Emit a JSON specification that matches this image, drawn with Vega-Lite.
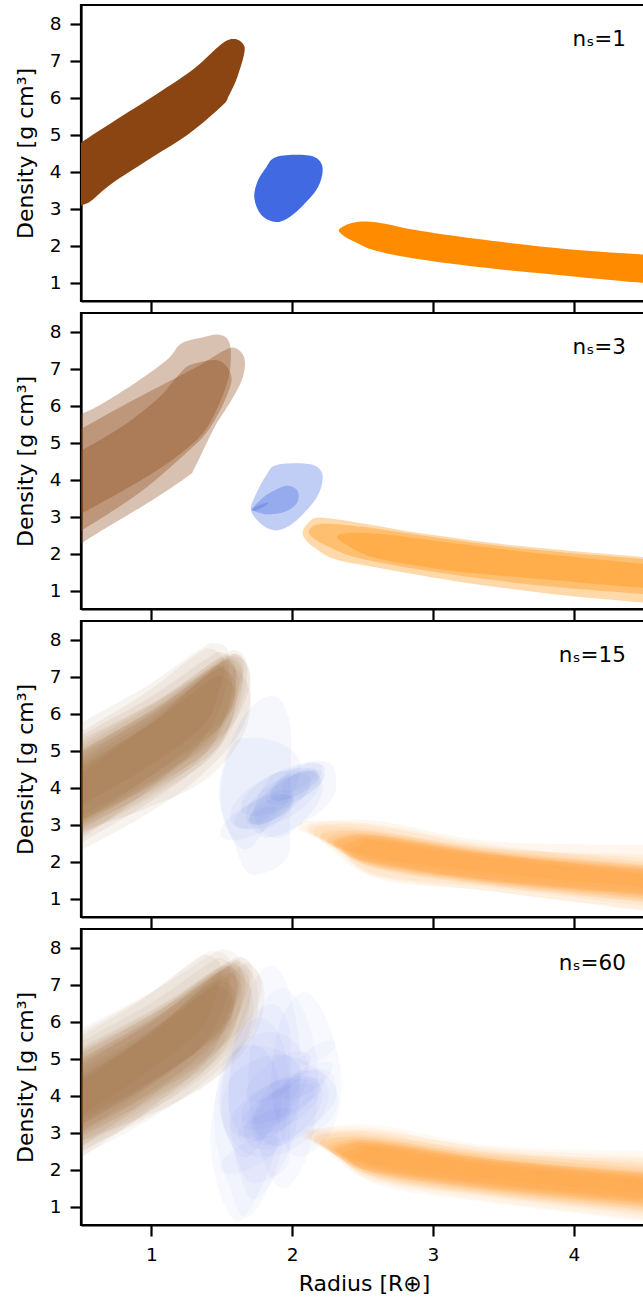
{
  "$schema": "https://vega.github.io/schema/vega-lite/v6.json",
  "autosize": {"type": "pad"},
  "padding": {"left": 13, "top": 3, "right": 0, "bottom": 0},
  "background": "white",
  "bounds": "flush",
  "spacing": 12,
  "config": {
    "font": "DejaVu Sans",
    "view": {"stroke": "black", "strokeWidth": 2.2},
    "axis": {
      "domain": true, "domainColor": "black", "domainWidth": 2.2,
      "ticks": true, "tickColor": "black", "tickWidth": 2.2, "tickSize": 11,
      "labelFont": "DejaVu Sans", "labelFontSize": 18.5, "labelColor": "black", "labelPadding": 9,
      "labelOverlap": false, "labelFlush": false,
      "titleFont": "DejaVu Sans", "titleFontSize": 22, "titleFontWeight": "normal", "titleColor": "black",
      "grid": false, "zindex": 1
    },
    "axisY": {"titlePadding": 12},
    "axisX": {"titlePadding": 10}
  },
  "datasets": {
    "b1": [
      {"k":1,"x":0.38,"y":4.45},{"k":1,"x":0.5,"y":4.78},{"k":1,"x":0.75,"y":5.4},{"k":1,"x":1.0,"y":6.0},{"k":1,"x":1.3,"y":6.77},{"k":1,"x":1.5,"y":7.45},{"k":1,"x":1.59,"y":7.58},{"k":1,"x":1.65,"y":7.45},{"k":1,"x":1.66,"y":7.2},{"k":1,"x":1.61,"y":6.55},{"k":1,"x":1.55,"y":6.05},{"k":1,"x":1.5,"y":5.77},{"k":1,"x":1.26,"y":5.0},{"k":1,"x":1.0,"y":4.37},{"k":1,"x":0.71,"y":3.65},{"k":1,"x":0.57,"y":3.2},{"k":1,"x":0.5,"y":3.07},{"k":1,"x":0.38,"y":2.8}
    ],
    "u1": [
      {"k":1,"x":1.814,"y":4.1},{"k":1,"x":1.873,"y":4.37},{"k":1,"x":2.015,"y":4.45},{"k":1,"x":2.157,"y":4.39},{"k":1,"x":2.216,"y":4.1},{"k":1,"x":2.181,"y":3.56},{"k":1,"x":2.06,"y":3.02},{"k":1,"x":1.956,"y":2.71},{"k":1,"x":1.873,"y":2.64},{"k":1,"x":1.778,"y":2.84},{"k":1,"x":1.731,"y":3.29},{"k":1,"x":1.755,"y":3.74}
    ],
    "o1": [
      {"k":1,"x":2.335,"y":2.44},{"k":1,"x":2.44,"y":2.62},{"k":1,"x":2.607,"y":2.62},{"k":1,"x":2.915,"y":2.39},{"k":1,"x":3.389,"y":2.14},{"k":1,"x":3.98,"y":1.89},{"k":1,"x":4.49,"y":1.76},{"k":1,"x":4.7,"y":1.72},{"k":1,"x":4.7,"y":0.95},{"k":1,"x":4.49,"y":0.99},{"k":1,"x":3.98,"y":1.17},{"k":1,"x":3.389,"y":1.39},{"k":1,"x":2.915,"y":1.62},{"k":1,"x":2.595,"y":1.86},{"k":1,"x":2.44,"y":2.11},{"k":1,"x":2.36,"y":2.28}
    ],
    "b2": [
      {"k":1,"x":0.38,"y":5.45},{"k":1,"x":0.5,"y":5.76},{"k":1,"x":0.642,"y":6.03},{"k":1,"x":0.9,"y":6.65},{"k":1,"x":1.115,"y":7.25},{"k":1,"x":1.21,"y":7.67},{"k":1,"x":1.352,"y":7.83},{"k":1,"x":1.47,"y":7.92},{"k":1,"x":1.542,"y":7.79},{"k":1,"x":1.565,"y":7.38},{"k":1,"x":1.542,"y":6.66},{"k":1,"x":1.447,"y":5.76},{"k":1,"x":1.33,"y":5.1},{"k":1,"x":1.1,"y":4.4},{"k":1,"x":0.8,"y":3.7},{"k":1,"x":0.5,"y":3.07},{"k":1,"x":0.38,"y":2.8},
      {"k":2,"x":0.38,"y":5.05},{"k":2,"x":0.5,"y":5.36},{"k":2,"x":0.8,"y":6.0},{"k":2,"x":1.1,"y":6.6},{"k":2,"x":1.35,"y":7.1},{"k":2,"x":1.5,"y":7.45},{"k":2,"x":1.59,"y":7.56},{"k":2,"x":1.66,"y":7.29},{"k":2,"x":1.648,"y":6.75},{"k":2,"x":1.565,"y":6.12},{"k":2,"x":1.447,"y":5.4},{"k":2,"x":1.305,"y":4.3},{"k":2,"x":1.258,"y":4.09},{"k":2,"x":0.997,"y":3.42},{"k":2,"x":0.642,"y":2.61},{"k":2,"x":0.5,"y":2.27},{"k":2,"x":0.38,"y":2.0},
      {"k":3,"x":0.38,"y":4.5},{"k":3,"x":0.5,"y":4.77},{"k":3,"x":0.8,"y":5.45},{"k":3,"x":1.05,"y":6.2},{"k":3,"x":1.2,"y":6.85},{"k":3,"x":1.28,"y":7.1},{"k":3,"x":1.47,"y":7.22},{"k":3,"x":1.565,"y":6.84},{"k":3,"x":1.54,"y":6.3},{"k":3,"x":1.4,"y":5.31},{"k":3,"x":1.21,"y":4.59},{"k":3,"x":0.9,"y":3.6},{"k":3,"x":0.5,"y":2.61},{"k":3,"x":0.38,"y":2.35}
    ],
    "u2": [
      {"k":1,"x":1.814,"y":4.1},{"k":1,"x":1.873,"y":4.37},{"k":1,"x":2.015,"y":4.44},{"k":1,"x":2.157,"y":4.38},{"k":1,"x":2.216,"y":4.1},{"k":1,"x":2.181,"y":3.56},{"k":1,"x":2.06,"y":3.0},{"k":1,"x":1.956,"y":2.7},{"k":1,"x":1.873,"y":2.63},{"k":1,"x":1.778,"y":2.8},{"k":1,"x":1.707,"y":3.19},{"k":1,"x":1.755,"y":3.7},
      {"k":2,"x":1.731,"y":3.28},{"k":2,"x":1.825,"y":3.6},{"k":2,"x":1.944,"y":3.82},{"k":2,"x":2.015,"y":3.78},{"k":2,"x":2.046,"y":3.6},{"k":2,"x":2.027,"y":3.33},{"k":2,"x":1.944,"y":3.12},{"k":2,"x":1.825,"y":3.06},{"k":2,"x":1.731,"y":3.15},
      {"k":3,"x":1.71,"y":3.2},{"k":3,"x":1.76,"y":3.3},{"k":3,"x":1.83,"y":3.38},{"k":3,"x":1.8,"y":3.27},{"k":3,"x":1.73,"y":3.15}
    ],
    "o2": [
      {"k":1,"x":2.075,"y":2.61},{"k":1,"x":2.12,"y":2.85},{"k":1,"x":2.18,"y":2.97},{"k":1,"x":2.3,"y":2.93},{"k":1,"x":2.6,"y":2.75},{"k":1,"x":2.915,"y":2.55},{"k":1,"x":3.625,"y":2.2},{"k":1,"x":4.5,"y":1.9},{"k":1,"x":4.7,"y":1.85},{"k":1,"x":4.7,"y":0.6},{"k":1,"x":4.5,"y":0.67},{"k":1,"x":3.86,"y":0.9},{"k":1,"x":3.15,"y":1.26},{"k":1,"x":2.6,"y":1.62},{"k":1,"x":2.3,"y":1.85},{"k":1,"x":2.157,"y":2.16},{"k":1,"x":2.09,"y":2.4},
      {"k":2,"x":2.12,"y":2.55},{"k":2,"x":2.2,"y":2.8},{"k":2,"x":2.5,"y":2.72},{"k":2,"x":2.9,"y":2.5},{"k":2,"x":3.6,"y":2.15},{"k":2,"x":4.5,"y":1.85},{"k":2,"x":4.7,"y":1.8},{"k":2,"x":4.7,"y":0.85},{"k":2,"x":4.5,"y":0.9},{"k":2,"x":3.8,"y":1.12},{"k":2,"x":3.1,"y":1.45},{"k":2,"x":2.5,"y":1.85},{"k":2,"x":2.25,"y":2.2},
      {"k":3,"x":2.32,"y":2.47},{"k":3,"x":2.45,"y":2.56},{"k":3,"x":2.7,"y":2.5},{"k":3,"x":3.0,"y":2.35},{"k":3,"x":3.6,"y":2.07},{"k":3,"x":4.5,"y":1.72},{"k":3,"x":4.7,"y":1.68},{"k":3,"x":4.7,"y":1.02},{"k":3,"x":4.5,"y":1.07},{"k":3,"x":3.8,"y":1.3},{"k":3,"x":3.1,"y":1.55},{"k":3,"x":2.6,"y":1.87},{"k":3,"x":2.4,"y":2.2}
    ],
    "b3": [
      {"k":1,"x":0.38,"y":4.5},{"k":1,"x":0.5,"y":4.8},{"k":1,"x":1.035,"y":6.09},{"k":1,"x":1.45,"y":7.35},{"k":1,"x":1.57,"y":7.55},{"k":1,"x":1.65,"y":7.2},{"k":1,"x":1.6,"y":6.5},{"k":1,"x":1.5,"y":5.8},{"k":1,"x":1.0,"y":4.33},{"k":1,"x":0.5,"y":3.05},{"k":1,"x":0.38,"y":2.75},
      {"k":2,"x":0.38,"y":5.45},{"k":2,"x":0.5,"y":5.75},{"k":2,"x":0.975,"y":6.76},{"k":2,"x":1.33,"y":7.7},{"k":2,"x":1.45,"y":7.9},{"k":2,"x":1.55,"y":7.6},{"k":2,"x":1.5,"y":6.3},{"k":2,"x":1.3,"y":5.0},{"k":2,"x":0.9,"y":3.95},{"k":2,"x":0.5,"y":3.1},{"k":2,"x":0.38,"y":2.8},
      {"k":3,"x":0.38,"y":5.0},{"k":3,"x":0.5,"y":5.3},{"k":3,"x":1.05,"y":6.36},{"k":3,"x":1.48,"y":7.35},{"k":3,"x":1.6,"y":7.55},{"k":3,"x":1.7,"y":7.1},{"k":3,"x":1.65,"y":5.63},{"k":3,"x":1.3,"y":4.15},{"k":3,"x":0.9,"y":3.13},{"k":3,"x":0.5,"y":2.3},{"k":3,"x":0.38,"y":2.0},
      {"k":4,"x":0.38,"y":4.4},{"k":4,"x":0.5,"y":4.7},{"k":4,"x":1.0,"y":5.88},{"k":4,"x":1.38,"y":7.0},{"k":4,"x":1.5,"y":7.2},{"k":4,"x":1.6,"y":6.8},{"k":4,"x":1.55,"y":6.05},{"k":4,"x":1.4,"y":5.3},{"k":4,"x":0.95,"y":3.85},{"k":4,"x":0.5,"y":2.6},{"k":4,"x":0.38,"y":2.3},
      {"k":5,"x":0.38,"y":4.7},{"k":5,"x":0.5,"y":5.0},{"k":5,"x":1.025,"y":6.13},{"k":5,"x":1.43,"y":7.2},{"k":5,"x":1.55,"y":7.4},{"k":5,"x":1.7,"y":6.6},{"k":5,"x":1.65,"y":5.4},{"k":5,"x":1.38,"y":4.2},{"k":5,"x":0.94,"y":3.4},{"k":5,"x":0.5,"y":2.8},{"k":5,"x":0.38,"y":2.5},
      {"k":6,"x":0.38,"y":4.1},{"k":6,"x":0.5,"y":4.4},{"k":6,"x":1.05,"y":5.9},{"k":6,"x":1.48,"y":7.4},{"k":6,"x":1.6,"y":7.6},{"k":6,"x":1.66,"y":7.3},{"k":6,"x":1.61,"y":6.4},{"k":6,"x":1.45,"y":5.5},{"k":6,"x":0.975,"y":4.25},{"k":6,"x":0.5,"y":3.2},{"k":6,"x":0.38,"y":2.9},
      {"k":7,"x":0.38,"y":5.2},{"k":7,"x":0.5,"y":5.5},{"k":7,"x":0.96,"y":6.56},{"k":7,"x":1.3,"y":7.55},{"k":7,"x":1.42,"y":7.75},{"k":7,"x":1.52,"y":7.4},{"k":7,"x":1.47,"y":6.5},{"k":7,"x":1.35,"y":5.6},{"k":7,"x":0.925,"y":4.45},{"k":7,"x":0.5,"y":3.5},{"k":7,"x":0.38,"y":3.2},
      {"k":8,"x":0.38,"y":4.6},{"k":8,"x":0.5,"y":4.9},{"k":8,"x":1.025,"y":6.03},{"k":8,"x":1.43,"y":7.1},{"k":8,"x":1.55,"y":7.3},{"k":8,"x":1.62,"y":6.9},{"k":8,"x":1.57,"y":5.85},{"k":8,"x":1.42,"y":4.8},{"k":8,"x":0.96,"y":3.65},{"k":8,"x":0.5,"y":2.7},{"k":8,"x":0.38,"y":2.4},
      {"k":9,"x":0.38,"y":4.9},{"k":9,"x":0.5,"y":5.2},{"k":9,"x":1.05,"y":6.38},{"k":9,"x":1.48,"y":7.5},{"k":9,"x":1.6,"y":7.7},{"k":9,"x":1.68,"y":7.3},{"k":9,"x":1.63,"y":6.15},{"k":9,"x":1.45,"y":5.0},{"k":9,"x":0.975,"y":3.85},{"k":9,"x":0.5,"y":2.9},{"k":9,"x":0.38,"y":2.6},
      {"k":10,"x":0.38,"y":4.3},{"k":10,"x":0.5,"y":4.6},{"k":10,"x":1.0,"y":5.73},{"k":10,"x":1.38,"y":6.8},{"k":10,"x":1.5,"y":7.0},{"k":10,"x":1.6,"y":6.6},{"k":10,"x":1.55,"y":5.6},{"k":10,"x":1.35,"y":4.6},{"k":10,"x":0.925,"y":3.45},{"k":10,"x":0.5,"y":2.5},{"k":10,"x":0.38,"y":2.2},
      {"k":11,"x":0.38,"y":4.8},{"k":11,"x":0.5,"y":5.1},{"k":11,"x":1.01,"y":6.23},{"k":11,"x":1.4,"y":7.3},{"k":11,"x":1.52,"y":7.5},{"k":11,"x":1.6,"y":7.1},{"k":11,"x":1.55,"y":6.15},{"k":11,"x":1.4,"y":5.2},{"k":11,"x":0.95,"y":4.0},{"k":11,"x":0.5,"y":3.0},{"k":11,"x":0.38,"y":2.7},
      {"k":12,"x":0.38,"y":4.65},{"k":12,"x":0.5,"y":4.95},{"k":12,"x":1.06,"y":6.2},{"k":12,"x":1.5,"y":7.4},{"k":12,"x":1.62,"y":7.6},{"k":12,"x":1.7,"y":7.0},{"k":12,"x":1.65,"y":6.2},{"k":12,"x":1.5,"y":5.4},{"k":12,"x":1.0,"y":4.08},{"k":12,"x":0.5,"y":2.95},{"k":12,"x":0.38,"y":2.65},
      {"k":13,"x":0.38,"y":5.1},{"k":13,"x":0.5,"y":5.4},{"k":13,"x":1.0,"y":6.46},{"k":13,"x":1.38,"y":7.45},{"k":13,"x":1.5,"y":7.65},{"k":13,"x":1.6,"y":7.2},{"k":13,"x":1.55,"y":5.95},{"k":13,"x":1.33,"y":4.7},{"k":13,"x":0.915,"y":3.63},{"k":13,"x":0.5,"y":2.75},{"k":13,"x":0.38,"y":2.45},
      {"k":14,"x":0.38,"y":4.2},{"k":14,"x":0.5,"y":4.5},{"k":14,"x":1.04,"y":5.89},{"k":14,"x":1.46,"y":7.25},{"k":14,"x":1.58,"y":7.45},{"k":14,"x":1.65,"y":7.0},{"k":14,"x":1.6,"y":6.05},{"k":14,"x":1.44,"y":5.1},{"k":14,"x":0.97,"y":3.88},{"k":14,"x":0.5,"y":2.85},{"k":14,"x":0.38,"y":2.55},
      {"k":15,"x":0.38,"y":4.7},{"k":15,"x":0.5,"y":5.0},{"k":15,"x":0.99,"y":6.08},{"k":15,"x":1.36,"y":7.1},{"k":15,"x":1.48,"y":7.3},{"k":15,"x":1.57,"y":6.9},{"k":15,"x":1.52,"y":5.9},{"k":15,"x":1.37,"y":4.9},{"k":15,"x":0.935,"y":3.9},{"k":15,"x":0.5,"y":3.1},{"k":15,"x":0.38,"y":2.8}
    ],
    "u3": [
      {"k":1,"x":1.684,"y":6.07},{"k":1,"x":1.873,"y":6.47},{"k":1,"x":1.98,"y":5.8},{"k":1,"x":1.99,"y":4.5},{"k":1,"x":1.985,"y":3.0},{"k":1,"x":1.956,"y":2.05},{"k":1,"x":1.707,"y":1.65},{"k":1,"x":1.589,"y":2.47},{"k":1,"x":1.48,"y":3.74},{"k":1,"x":1.542,"y":4.99},
      {"k":2,"x":1.62,"y":5.3},{"k":2,"x":1.83,"y":5.3},{"k":2,"x":2.0,"y":5.0},{"k":2,"x":2.06,"y":4.55},{"k":2,"x":2.0,"y":3.8},{"k":2,"x":1.85,"y":3.1},{"k":2,"x":1.7,"y":2.37},{"k":2,"x":1.6,"y":2.5},{"k":2,"x":1.5,"y":3.3},{"k":2,"x":1.5,"y":4.2},{"k":2,"x":1.55,"y":4.9},
      {"k":3,"x":2.015,"y":4.54},{"k":3,"x":2.157,"y":4.72},{"k":3,"x":2.276,"y":4.63},{"k":3,"x":2.311,"y":4.27},{"k":3,"x":2.3,"y":3.82},{"k":3,"x":2.205,"y":3.37},{"k":3,"x":2.062,"y":3.01},{"k":3,"x":1.92,"y":2.74},{"k":3,"x":1.802,"y":2.65},{"k":3,"x":1.72,"y":2.92},{"k":3,"x":1.707,"y":3.28},{"k":3,"x":1.802,"y":3.82},{"k":3,"x":1.92,"y":4.27},
      {"k":4,"x":2.12,"y":4.3},{"k":4,"x":2.106,"y":3.877},{"k":4,"x":1.97,"y":3.35},{"k":4,"x":1.794,"y":3.025},{"k":4,"x":1.68,"y":3.1},{"k":4,"x":1.694,"y":3.523},{"k":4,"x":1.83,"y":4.05},{"k":4,"x":2.006,"y":4.375},
      {"k":5,"x":2.21,"y":4.6},{"k":5,"x":2.194,"y":4.292},{"k":5,"x":2.08,"y":3.9},{"k":5,"x":1.938,"y":3.652},{"k":5,"x":1.85,"y":3.7},{"k":5,"x":1.866,"y":4.008},{"k":5,"x":1.98,"y":4.4},{"k":5,"x":2.122,"y":4.648},
      {"k":6,"x":2.0,"y":3.75},{"k":6,"x":1.985,"y":3.377},{"k":6,"x":1.83,"y":2.9},{"k":6,"x":1.629,"y":2.597},{"k":6,"x":1.5,"y":2.65},{"k":6,"x":1.515,"y":3.023},{"k":6,"x":1.67,"y":3.5},{"k":6,"x":1.871,"y":3.803},
      {"k":7,"x":2.18,"y":4.4},{"k":7,"x":2.178,"y":3.877},{"k":7,"x":2.0,"y":3.25},{"k":7,"x":1.752,"y":2.883},{"k":7,"x":1.58,"y":3.0},{"k":7,"x":1.582,"y":3.523},{"k":7,"x":1.76,"y":4.15},{"k":7,"x":2.008,"y":4.517},
      {"k":8,"x":2.0,"y":3.75},{"k":8,"x":1.993,"y":3.507},{"k":8,"x":1.9,"y":3.2},{"k":8,"x":1.779,"y":3.009},{"k":8,"x":1.7,"y":3.05},{"k":8,"x":1.707,"y":3.293},{"k":8,"x":1.8,"y":3.6},{"k":8,"x":1.921,"y":3.791},
      {"k":9,"x":2.17,"y":4.5},{"k":9,"x":2.163,"y":4.306},{"k":9,"x":2.09,"y":4.05},{"k":9,"x":1.993,"y":3.88},{"k":9,"x":1.93,"y":3.9},{"k":9,"x":1.937,"y":4.094},{"k":9,"x":2.01,"y":4.35},{"k":9,"x":2.107,"y":4.52},
      {"k":10,"x":2.0,"y":3.85},{"k":10,"x":1.992,"y":3.542},{"k":10,"x":1.87,"y":3.15},{"k":10,"x":1.708,"y":2.902},{"k":10,"x":1.6,"y":2.95},{"k":10,"x":1.608,"y":3.258},{"k":10,"x":1.73,"y":3.65},{"k":10,"x":1.892,"y":3.898},
      {"k":11,"x":2.18,"y":4.4},{"k":11,"x":2.177,"y":4.157},{"k":11,"x":2.08,"y":3.85},{"k":11,"x":1.949,"y":3.659},{"k":11,"x":1.86,"y":3.7},{"k":11,"x":1.863,"y":3.943},{"k":11,"x":1.96,"y":4.25},{"k":11,"x":2.091,"y":4.441},
      {"k":12,"x":2.22,"y":4.4},{"k":12,"x":2.205,"y":4.106},{"k":12,"x":2.08,"y":3.75},{"k":12,"x":1.921,"y":3.538},{"k":12,"x":1.82,"y":3.6},{"k":12,"x":1.835,"y":3.894},{"k":12,"x":1.96,"y":4.25},{"k":12,"x":2.119,"y":4.462},
      {"k":13,"x":1.88,"y":3.47},{"k":13,"x":1.872,"y":3.321},{"k":13,"x":1.81,"y":3.13},{"k":13,"x":1.73,"y":3.009},{"k":13,"x":1.68,"y":3.03},{"k":13,"x":1.688,"y":3.179},{"k":13,"x":1.75,"y":3.37},{"k":13,"x":1.83,"y":3.491},
      {"k":14,"x":1.814,"y":4.1},{"k":14,"x":1.873,"y":4.37},{"k":14,"x":2.015,"y":4.45},{"k":14,"x":2.157,"y":4.39},{"k":14,"x":2.216,"y":4.1},{"k":14,"x":2.181,"y":3.56},{"k":14,"x":2.06,"y":3.02},{"k":14,"x":1.956,"y":2.71},{"k":14,"x":1.873,"y":2.64},{"k":14,"x":1.778,"y":2.84},{"k":14,"x":1.731,"y":3.29},{"k":14,"x":1.755,"y":3.74},
      {"k":15,"x":2.23,"y":4.54},{"k":15,"x":2.186,"y":4.065},{"k":15,"x":1.994,"y":3.525},{"k":15,"x":1.768,"y":3.235},{"k":15,"x":1.64,"y":3.37},{"k":15,"x":1.684,"y":3.845},{"k":15,"x":1.876,"y":4.385},{"k":15,"x":2.102,"y":4.675}
    ],
    "o3": [
      {"k":1,"x":2.3,"y":2.5},{"k":1,"x":2.38,"y":2.65},{"k":1,"x":2.6,"y":2.7},{"k":1,"x":3.4,"y":2.2},{"k":1,"x":4.5,"y":1.8},{"k":1,"x":4.7,"y":1.76},{"k":1,"x":4.7,"y":0.94},{"k":1,"x":4.5,"y":1.0},{"k":1,"x":3.4,"y":1.4},{"k":1,"x":2.6,"y":1.85},{"k":1,"x":2.36,"y":2.3},
      {"k":2,"x":2.05,"y":2.95},{"k":2,"x":2.13,"y":3.1},{"k":2,"x":2.6,"y":3.0},{"k":2,"x":3.4,"y":2.45},{"k":2,"x":4.5,"y":2.0},{"k":2,"x":4.7,"y":1.96},{"k":2,"x":4.7,"y":1.04},{"k":2,"x":4.5,"y":1.1},{"k":2,"x":3.4,"y":1.5},{"k":2,"x":2.6,"y":2.0},{"k":2,"x":2.11,"y":2.75},
      {"k":3,"x":2.2,"y":2.7},{"k":3,"x":2.28,"y":2.85},{"k":3,"x":2.6,"y":2.8},{"k":3,"x":3.4,"y":2.3},{"k":3,"x":4.5,"y":1.9},{"k":3,"x":4.7,"y":1.86},{"k":3,"x":4.7,"y":0.74},{"k":3,"x":4.5,"y":0.8},{"k":3,"x":3.4,"y":1.3},{"k":3,"x":2.6,"y":1.65},{"k":3,"x":2.26,"y":2.5},
      {"k":4,"x":2.35,"y":2.35},{"k":4,"x":2.43,"y":2.5},{"k":4,"x":2.6,"y":2.6},{"k":4,"x":3.4,"y":2.15},{"k":4,"x":4.5,"y":1.75},{"k":4,"x":4.7,"y":1.71},{"k":4,"x":4.7,"y":1.09},{"k":4,"x":4.5,"y":1.15},{"k":4,"x":3.4,"y":1.5},{"k":4,"x":2.6,"y":1.95},{"k":4,"x":2.41,"y":2.15},
      {"k":5,"x":2.15,"y":2.8},{"k":5,"x":2.23,"y":2.95},{"k":5,"x":2.6,"y":2.85},{"k":5,"x":3.4,"y":2.35},{"k":5,"x":4.5,"y":2.2},{"k":5,"x":4.7,"y":2.16},{"k":5,"x":4.7,"y":1.14},{"k":5,"x":4.5,"y":1.2},{"k":5,"x":3.4,"y":1.6},{"k":5,"x":2.6,"y":2.05},{"k":5,"x":2.21,"y":2.6},
      {"k":6,"x":2.25,"y":2.6},{"k":6,"x":2.33,"y":2.75},{"k":6,"x":2.6,"y":2.75},{"k":6,"x":3.4,"y":2.25},{"k":6,"x":4.5,"y":1.7},{"k":6,"x":4.7,"y":1.66},{"k":6,"x":4.7,"y":0.84},{"k":6,"x":4.5,"y":0.9},{"k":6,"x":3.4,"y":1.35},{"k":6,"x":2.6,"y":1.8},{"k":6,"x":2.31,"y":2.4},
      {"k":7,"x":2.1,"y":2.9},{"k":7,"x":2.18,"y":3.05},{"k":7,"x":2.6,"y":3.1},{"k":7,"x":3.4,"y":2.55},{"k":7,"x":4.5,"y":2.45},{"k":7,"x":4.7,"y":2.41},{"k":7,"x":4.7,"y":1.24},{"k":7,"x":4.5,"y":1.3},{"k":7,"x":3.4,"y":1.7},{"k":7,"x":2.6,"y":2.1},{"k":7,"x":2.16,"y":2.7},
      {"k":8,"x":2.3,"y":2.45},{"k":8,"x":2.38,"y":2.6},{"k":8,"x":2.6,"y":2.65},{"k":8,"x":3.4,"y":2.2},{"k":8,"x":4.5,"y":1.85},{"k":8,"x":4.7,"y":1.81},{"k":8,"x":4.7,"y":0.64},{"k":8,"x":4.5,"y":0.7},{"k":8,"x":3.4,"y":1.2},{"k":8,"x":2.6,"y":1.6},{"k":8,"x":2.36,"y":2.25},
      {"k":9,"x":2.4,"y":2.3},{"k":9,"x":2.48,"y":2.45},{"k":9,"x":2.6,"y":2.55},{"k":9,"x":3.4,"y":2.1},{"k":9,"x":4.5,"y":1.65},{"k":9,"x":4.7,"y":1.61},{"k":9,"x":4.7,"y":1.04},{"k":9,"x":4.5,"y":1.1},{"k":9,"x":3.4,"y":1.45},{"k":9,"x":2.6,"y":1.95},{"k":9,"x":2.46,"y":2.1},
      {"k":10,"x":2.2,"y":2.65},{"k":10,"x":2.28,"y":2.8},{"k":10,"x":2.6,"y":2.8},{"k":10,"x":3.4,"y":2.35},{"k":10,"x":4.5,"y":1.95},{"k":10,"x":4.7,"y":1.91},{"k":10,"x":4.7,"y":0.94},{"k":10,"x":4.5,"y":1.0},{"k":10,"x":3.4,"y":1.45},{"k":10,"x":2.6,"y":1.9},{"k":10,"x":2.26,"y":2.45},
      {"k":11,"x":2.3,"y":2.55},{"k":11,"x":2.38,"y":2.7},{"k":11,"x":2.6,"y":2.7},{"k":11,"x":3.4,"y":2.25},{"k":11,"x":4.5,"y":1.9},{"k":11,"x":4.7,"y":1.86},{"k":11,"x":4.7,"y":0.99},{"k":11,"x":4.5,"y":1.05},{"k":11,"x":3.4,"y":1.45},{"k":11,"x":2.6,"y":1.9},{"k":11,"x":2.36,"y":2.35},
      {"k":12,"x":2.25,"y":2.55},{"k":12,"x":2.33,"y":2.7},{"k":12,"x":2.6,"y":2.72},{"k":12,"x":3.4,"y":2.28},{"k":12,"x":4.5,"y":1.88},{"k":12,"x":4.7,"y":1.84},{"k":12,"x":4.7,"y":0.89},{"k":12,"x":4.5,"y":0.95},{"k":12,"x":3.4,"y":1.4},{"k":12,"x":2.6,"y":1.85},{"k":12,"x":2.31,"y":2.35},
      {"k":13,"x":2.12,"y":2.85},{"k":13,"x":2.2,"y":3.0},{"k":13,"x":2.6,"y":2.95},{"k":13,"x":3.4,"y":2.4},{"k":13,"x":4.5,"y":2.1},{"k":13,"x":4.7,"y":2.06},{"k":13,"x":4.7,"y":0.6},{"k":13,"x":4.5,"y":0.66},{"k":13,"x":3.4,"y":1.2},{"k":13,"x":2.6,"y":1.55},{"k":13,"x":2.18,"y":2.65},
      {"k":14,"x":2.35,"y":2.4},{"k":14,"x":2.43,"y":2.55},{"k":14,"x":2.6,"y":2.62},{"k":14,"x":3.4,"y":2.18},{"k":14,"x":4.5,"y":1.78},{"k":14,"x":4.7,"y":1.74},{"k":14,"x":4.7,"y":1.04},{"k":14,"x":4.5,"y":1.1},{"k":14,"x":3.4,"y":1.5},{"k":14,"x":2.6,"y":1.92},{"k":14,"x":2.41,"y":2.2},
      {"k":15,"x":2.28,"y":2.5},{"k":15,"x":2.36,"y":2.65},{"k":15,"x":2.6,"y":2.68},{"k":15,"x":3.4,"y":2.22},{"k":15,"x":4.5,"y":1.82},{"k":15,"x":4.7,"y":1.78},{"k":15,"x":4.7,"y":0.84},{"k":15,"x":4.5,"y":0.9},{"k":15,"x":3.4,"y":1.35},{"k":15,"x":2.6,"y":1.82},{"k":15,"x":2.34,"y":2.3}
    ],
    "b4": [
      {"k":1,"x":0.38,"y":4.5},{"k":1,"x":0.5,"y":4.8},{"k":1,"x":1.025,"y":6.07},{"k":1,"x":1.43,"y":7.3},{"k":1,"x":1.55,"y":7.5},{"k":1,"x":1.64,"y":7.1},{"k":1,"x":1.59,"y":6.35},{"k":1,"x":1.45,"y":5.6},{"k":1,"x":0.975,"y":4.2},{"k":1,"x":0.5,"y":3.0},{"k":1,"x":0.38,"y":2.7},
      {"k":2,"x":0.38,"y":5.4},{"k":2,"x":0.5,"y":5.7},{"k":2,"x":0.975,"y":6.73},{"k":2,"x":1.33,"y":7.7},{"k":2,"x":1.45,"y":7.9},{"k":2,"x":1.56,"y":7.6},{"k":2,"x":1.51,"y":6.35},{"k":2,"x":1.3,"y":5.1},{"k":2,"x":0.9,"y":4.05},{"k":2,"x":0.5,"y":3.2},{"k":2,"x":0.38,"y":2.9},
      {"k":3,"x":0.38,"y":4.9},{"k":3,"x":0.5,"y":5.2},{"k":3,"x":1.06,"y":6.33},{"k":3,"x":1.5,"y":7.4},{"k":3,"x":1.62,"y":7.6},{"k":3,"x":1.75,"y":7.0},{"k":3,"x":1.7,"y":5.6},{"k":3,"x":1.32,"y":4.2},{"k":3,"x":0.91,"y":3.18},{"k":3,"x":0.5,"y":2.35},{"k":3,"x":0.38,"y":2.05},
      {"k":4,"x":0.38,"y":4.3},{"k":4,"x":0.5,"y":4.6},{"k":4,"x":1.0,"y":5.78},{"k":4,"x":1.38,"y":6.9},{"k":4,"x":1.5,"y":7.1},{"k":4,"x":1.6,"y":6.7},{"k":4,"x":1.55,"y":5.95},{"k":4,"x":1.38,"y":5.2},{"k":4,"x":0.94,"y":3.8},{"k":4,"x":0.5,"y":2.6},{"k":4,"x":0.38,"y":2.3},
      {"k":5,"x":0.38,"y":4.7},{"k":5,"x":0.5,"y":5.0},{"k":5,"x":1.04,"y":6.15},{"k":5,"x":1.46,"y":7.25},{"k":5,"x":1.58,"y":7.45},{"k":5,"x":1.72,"y":6.7},{"k":5,"x":1.67,"y":5.5},{"k":5,"x":1.4,"y":4.3},{"k":5,"x":0.95,"y":3.43},{"k":5,"x":0.5,"y":2.75},{"k":5,"x":0.38,"y":2.45},
      {"k":6,"x":0.38,"y":4.05},{"k":6,"x":0.5,"y":4.35},{"k":6,"x":1.06,"y":5.9},{"k":6,"x":1.5,"y":7.45},{"k":6,"x":1.62,"y":7.65},{"k":6,"x":1.7,"y":7.3},{"k":6,"x":1.65,"y":6.45},{"k":6,"x":1.48,"y":5.6},{"k":6,"x":0.99,"y":4.33},{"k":6,"x":0.5,"y":3.25},{"k":6,"x":0.38,"y":2.95},
      {"k":7,"x":0.38,"y":5.3},{"k":7,"x":0.5,"y":5.6},{"k":7,"x":0.95,"y":6.63},{"k":7,"x":1.28,"y":7.6},{"k":7,"x":1.4,"y":7.8},{"k":7,"x":1.5,"y":7.45},{"k":7,"x":1.45,"y":6.58},{"k":7,"x":1.33,"y":5.7},{"k":7,"x":0.915,"y":4.48},{"k":7,"x":0.5,"y":3.45},{"k":7,"x":0.38,"y":3.15},
      {"k":8,"x":0.38,"y":4.6},{"k":8,"x":0.5,"y":4.9},{"k":8,"x":1.03,"y":6.02},{"k":8,"x":1.44,"y":7.1},{"k":8,"x":1.56,"y":7.3},{"k":8,"x":1.64,"y":6.9},{"k":8,"x":1.59,"y":5.85},{"k":8,"x":1.42,"y":4.8},{"k":8,"x":0.96,"y":3.63},{"k":8,"x":0.5,"y":2.65},{"k":8,"x":0.38,"y":2.35},
      {"k":9,"x":0.38,"y":4.95},{"k":9,"x":0.5,"y":5.25},{"k":9,"x":1.07,"y":6.43},{"k":9,"x":1.52,"y":7.55},{"k":9,"x":1.64,"y":7.75},{"k":9,"x":1.72,"y":7.35},{"k":9,"x":1.67,"y":6.18},{"k":9,"x":1.47,"y":5.0},{"k":9,"x":0.985,"y":3.85},{"k":9,"x":0.5,"y":2.9},{"k":9,"x":0.38,"y":2.6},
      {"k":10,"x":0.38,"y":4.2},{"k":10,"x":0.5,"y":4.5},{"k":10,"x":0.99,"y":5.65},{"k":10,"x":1.36,"y":6.75},{"k":10,"x":1.48,"y":6.95},{"k":10,"x":1.58,"y":6.55},{"k":10,"x":1.53,"y":5.53},{"k":10,"x":1.33,"y":4.5},{"k":10,"x":0.915,"y":3.38},{"k":10,"x":0.5,"y":2.45},{"k":10,"x":0.38,"y":2.15},
      {"k":11,"x":0.38,"y":4.8},{"k":11,"x":0.5,"y":5.1},{"k":11,"x":1.015,"y":6.23},{"k":11,"x":1.41,"y":7.3},{"k":11,"x":1.53,"y":7.5},{"k":11,"x":1.61,"y":7.1},{"k":11,"x":1.56,"y":6.15},{"k":11,"x":1.4,"y":5.2},{"k":11,"x":0.95,"y":4.0},{"k":11,"x":0.5,"y":3.0},{"k":11,"x":0.38,"y":2.7},
      {"k":12,"x":0.38,"y":4.65},{"k":12,"x":0.5,"y":4.95},{"k":12,"x":1.08,"y":6.24},{"k":12,"x":1.54,"y":7.5},{"k":12,"x":1.66,"y":7.7},{"k":12,"x":1.78,"y":7.1},{"k":12,"x":1.73,"y":6.25},{"k":12,"x":1.52,"y":5.4},{"k":12,"x":1.01,"y":4.08},{"k":12,"x":0.5,"y":2.95},{"k":12,"x":0.38,"y":2.65},
      {"k":13,"x":0.38,"y":5.15},{"k":13,"x":0.5,"y":5.45},{"k":13,"x":1.0,"y":6.51},{"k":13,"x":1.38,"y":7.5},{"k":13,"x":1.5,"y":7.7},{"k":13,"x":1.6,"y":7.25},{"k":13,"x":1.55,"y":5.98},{"k":13,"x":1.33,"y":4.7},{"k":13,"x":0.915,"y":3.63},{"k":13,"x":0.5,"y":2.75},{"k":13,"x":0.38,"y":2.45},
      {"k":14,"x":0.38,"y":4.15},{"k":14,"x":0.5,"y":4.45},{"k":14,"x":1.05,"y":5.88},{"k":14,"x":1.48,"y":7.3},{"k":14,"x":1.6,"y":7.5},{"k":14,"x":1.67,"y":7.05},{"k":14,"x":1.62,"y":6.1},{"k":14,"x":1.46,"y":5.15},{"k":14,"x":0.98,"y":3.9},{"k":14,"x":0.5,"y":2.85},{"k":14,"x":0.38,"y":2.55},
      {"k":15,"x":0.38,"y":4.7},{"k":15,"x":0.5,"y":5.0},{"k":15,"x":0.985,"y":6.08},{"k":15,"x":1.35,"y":7.1},{"k":15,"x":1.47,"y":7.3},{"k":15,"x":1.57,"y":6.9},{"k":15,"x":1.52,"y":5.9},{"k":15,"x":1.36,"y":4.9},{"k":15,"x":0.93,"y":3.9},{"k":15,"x":0.5,"y":3.1},{"k":15,"x":0.38,"y":2.8},
      {"k":16,"x":0.38,"y":5.5},{"k":16,"x":0.5,"y":5.8},{"k":16,"x":1.01,"y":6.81},{"k":16,"x":1.4,"y":7.75},{"k":16,"x":1.52,"y":7.95},{"k":16,"x":1.63,"y":7.6},{"k":16,"x":1.58,"y":6.45},{"k":16,"x":1.35,"y":5.3},{"k":16,"x":0.925,"y":4.23},{"k":16,"x":0.5,"y":3.35},{"k":16,"x":0.38,"y":3.05},
      {"k":17,"x":0.38,"y":4.4},{"k":17,"x":0.5,"y":4.7},{"k":17,"x":1.1,"y":6.04},{"k":17,"x":1.58,"y":7.35},{"k":17,"x":1.7,"y":7.55},{"k":17,"x":1.8,"y":6.9},{"k":17,"x":1.75,"y":5.75},{"k":17,"x":1.5,"y":4.6},{"k":17,"x":1.0,"y":3.45},{"k":17,"x":0.5,"y":2.5},{"k":17,"x":0.38,"y":2.2},
      {"k":18,"x":0.38,"y":5.0},{"k":18,"x":0.5,"y":5.3},{"k":18,"x":1.035,"y":6.38},{"k":18,"x":1.45,"y":7.4},{"k":18,"x":1.57,"y":7.6},{"k":18,"x":1.66,"y":7.2},{"k":18,"x":1.61,"y":6.1},{"k":18,"x":1.42,"y":5.0},{"k":18,"x":0.96,"y":3.55},{"k":18,"x":0.5,"y":2.3},{"k":18,"x":0.38,"y":2.0},
      {"k":19,"x":0.38,"y":4.55},{"k":19,"x":0.5,"y":4.85},{"k":19,"x":1.02,"y":6.05},{"k":19,"x":1.42,"y":7.2},{"k":19,"x":1.54,"y":7.4},{"k":19,"x":1.62,"y":7.0},{"k":19,"x":1.57,"y":6.23},{"k":19,"x":1.41,"y":5.45},{"k":19,"x":0.955,"y":4.23},{"k":19,"x":0.5,"y":3.2},{"k":19,"x":0.38,"y":2.9},
      {"k":20,"x":0.38,"y":4.85},{"k":20,"x":0.5,"y":5.15},{"k":20,"x":1.05,"y":6.28},{"k":20,"x":1.48,"y":7.35},{"k":20,"x":1.6,"y":7.55},{"k":20,"x":1.7,"y":7.05},{"k":20,"x":1.65,"y":5.8},{"k":20,"x":1.38,"y":4.55},{"k":20,"x":0.94,"y":3.48},{"k":20,"x":0.5,"y":2.6},{"k":20,"x":0.38,"y":2.3}
    ],
    "u4": [
      {"k":1,"x":1.72,"y":7.0},{"k":1,"x":1.86,"y":7.5},{"k":1,"x":1.98,"y":6.8},{"k":1,"x":2.06,"y":5.0},{"k":1,"x":2.02,"y":3.0},{"k":1,"x":1.88,"y":1.8},{"k":1,"x":1.72,"y":1.2},{"k":1,"x":1.62,"y":2.0},{"k":1,"x":1.55,"y":3.5},{"k":1,"x":1.58,"y":5.3},
      {"k":2,"x":1.8,"y":6.5},{"k":2,"x":1.94,"y":6.9},{"k":2,"x":2.08,"y":6.3},{"k":2,"x":2.18,"y":4.8},{"k":2,"x":2.15,"y":3.0},{"k":2,"x":2.05,"y":1.9},{"k":2,"x":1.92,"y":1.5},{"k":2,"x":1.8,"y":2.2},{"k":2,"x":1.7,"y":3.6},{"k":2,"x":1.7,"y":5.2},
      {"k":3,"x":1.6,"y":5.6},{"k":3,"x":1.76,"y":6.1},{"k":3,"x":1.9,"y":5.7},{"k":3,"x":1.98,"y":4.5},{"k":3,"x":1.94,"y":2.8},{"k":3,"x":1.82,"y":1.4},{"k":3,"x":1.66,"y":0.7},{"k":3,"x":1.55,"y":1.6},{"k":3,"x":1.45,"y":3.0},{"k":3,"x":1.48,"y":4.5},
      {"k":4,"x":1.684,"y":6.07},{"k":4,"x":1.873,"y":6.47},{"k":4,"x":1.98,"y":5.8},{"k":4,"x":1.99,"y":4.5},{"k":4,"x":1.985,"y":3.0},{"k":4,"x":1.956,"y":2.05},{"k":4,"x":1.707,"y":1.65},{"k":4,"x":1.589,"y":2.47},{"k":4,"x":1.48,"y":3.74},{"k":4,"x":1.542,"y":4.99},
      {"k":5,"x":1.95,"y":6.3},{"k":5,"x":2.1,"y":6.8},{"k":5,"x":2.25,"y":6.0},{"k":5,"x":2.35,"y":4.5},{"k":5,"x":2.3,"y":3.2},{"k":5,"x":2.15,"y":2.5},{"k":5,"x":2.0,"y":2.4},{"k":5,"x":1.9,"y":3.2},{"k":5,"x":1.85,"y":4.3},{"k":5,"x":1.88,"y":5.4},
      {"k":6,"x":1.55,"y":5.0},{"k":6,"x":1.7,"y":5.4},{"k":6,"x":1.85,"y":5.0},{"k":6,"x":1.92,"y":4.0},{"k":6,"x":1.88,"y":2.5},{"k":6,"x":1.75,"y":1.3},{"k":6,"x":1.62,"y":0.6},{"k":6,"x":1.5,"y":1.2},{"k":6,"x":1.42,"y":2.6},{"k":6,"x":1.45,"y":3.9},
      {"k":7,"x":1.62,"y":5.3},{"k":7,"x":1.83,"y":5.3},{"k":7,"x":2.0,"y":5.0},{"k":7,"x":2.06,"y":4.55},{"k":7,"x":2.0,"y":3.8},{"k":7,"x":1.85,"y":3.1},{"k":7,"x":1.7,"y":2.37},{"k":7,"x":1.6,"y":2.5},{"k":7,"x":1.5,"y":3.3},{"k":7,"x":1.5,"y":4.2},{"k":7,"x":1.55,"y":4.9},
      {"k":8,"x":1.7,"y":5.6},{"k":8,"x":1.9,"y":5.7},{"k":8,"x":2.05,"y":5.3},{"k":8,"x":2.12,"y":4.7},{"k":8,"x":2.05,"y":3.9},{"k":8,"x":1.9,"y":3.2},{"k":8,"x":1.75,"y":2.8},{"k":8,"x":1.62,"y":3.0},{"k":8,"x":1.55,"y":3.7},{"k":8,"x":1.56,"y":4.6},{"k":8,"x":1.6,"y":5.2},
      {"k":9,"x":2.015,"y":4.54},{"k":9,"x":2.157,"y":4.72},{"k":9,"x":2.276,"y":4.63},{"k":9,"x":2.311,"y":4.27},{"k":9,"x":2.3,"y":3.82},{"k":9,"x":2.205,"y":3.37},{"k":9,"x":2.062,"y":3.01},{"k":9,"x":1.92,"y":2.74},{"k":9,"x":1.802,"y":2.65},{"k":9,"x":1.72,"y":2.92},{"k":9,"x":1.707,"y":3.28},{"k":9,"x":1.802,"y":3.82},{"k":9,"x":1.92,"y":4.27},
      {"k":10,"x":1.95,"y":4.3},{"k":10,"x":2.1,"y":4.5},{"k":10,"x":2.22,"y":4.4},{"k":10,"x":2.26,"y":4.0},{"k":10,"x":2.22,"y":3.5},{"k":10,"x":2.12,"y":3.05},{"k":10,"x":1.98,"y":2.75},{"k":10,"x":1.84,"y":2.55},{"k":10,"x":1.72,"y":2.6},{"k":10,"x":1.66,"y":2.9},{"k":10,"x":1.68,"y":3.3},{"k":10,"x":1.78,"y":3.8},{"k":10,"x":1.86,"y":4.1},
      {"k":11,"x":2.12,"y":5.1},{"k":11,"x":2.106,"y":4.677},{"k":11,"x":1.97,"y":4.15},{"k":11,"x":1.794,"y":3.825},{"k":11,"x":1.68,"y":3.9},{"k":11,"x":1.694,"y":4.323},{"k":11,"x":1.83,"y":4.85},{"k":11,"x":2.006,"y":5.175},
      {"k":12,"x":2.28,"y":4.85},{"k":12,"x":2.264,"y":4.542},{"k":12,"x":2.15,"y":4.15},{"k":12,"x":2.008,"y":3.902},{"k":12,"x":1.92,"y":3.95},{"k":12,"x":1.936,"y":4.258},{"k":12,"x":2.05,"y":4.65},{"k":12,"x":2.192,"y":4.898},
      {"k":13,"x":2.15,"y":4.25},{"k":13,"x":2.135,"y":3.877},{"k":13,"x":1.98,"y":3.4},{"k":13,"x":1.779,"y":3.097},{"k":13,"x":1.65,"y":3.15},{"k":13,"x":1.665,"y":3.523},{"k":13,"x":1.82,"y":4.0},{"k":13,"x":2.021,"y":4.303},
      {"k":14,"x":2.18,"y":4.4},{"k":14,"x":2.178,"y":3.877},{"k":14,"x":2.0,"y":3.25},{"k":14,"x":1.752,"y":2.883},{"k":14,"x":1.58,"y":3.0},{"k":14,"x":1.582,"y":3.523},{"k":14,"x":1.76,"y":4.15},{"k":14,"x":2.008,"y":4.517},
      {"k":15,"x":2.3,"y":5.45},{"k":15,"x":2.293,"y":5.256},{"k":15,"x":2.22,"y":5.0},{"k":15,"x":2.123,"y":4.83},{"k":15,"x":2.06,"y":4.85},{"k":15,"x":2.067,"y":5.044},{"k":15,"x":2.14,"y":5.3},{"k":15,"x":2.237,"y":5.47},
      {"k":16,"x":1.9,"y":2.85},{"k":16,"x":1.892,"y":2.542},{"k":16,"x":1.77,"y":2.15},{"k":16,"x":1.608,"y":1.902},{"k":16,"x":1.5,"y":1.95},{"k":16,"x":1.508,"y":2.258},{"k":16,"x":1.63,"y":2.65},{"k":16,"x":1.792,"y":2.898},
      {"k":17,"x":2.23,"y":4.54},{"k":17,"x":2.186,"y":4.065},{"k":17,"x":1.994,"y":3.525},{"k":17,"x":1.768,"y":3.235},{"k":17,"x":1.64,"y":3.37},{"k":17,"x":1.684,"y":3.845},{"k":17,"x":1.876,"y":4.385},{"k":17,"x":2.102,"y":4.675},
      {"k":18,"x":2.02,"y":3.6},{"k":18,"x":2.005,"y":3.306},{"k":18,"x":1.88,"y":2.95},{"k":18,"x":1.721,"y":2.738},{"k":18,"x":1.62,"y":2.8},{"k":18,"x":1.635,"y":3.094},{"k":18,"x":1.76,"y":3.45},{"k":18,"x":1.919,"y":3.662},
      {"k":19,"x":1.814,"y":4.1},{"k":19,"x":1.873,"y":4.37},{"k":19,"x":2.015,"y":4.45},{"k":19,"x":2.157,"y":4.39},{"k":19,"x":2.216,"y":4.1},{"k":19,"x":2.181,"y":3.56},{"k":19,"x":2.06,"y":3.02},{"k":19,"x":1.956,"y":2.71},{"k":19,"x":1.873,"y":2.64},{"k":19,"x":1.778,"y":2.84},{"k":19,"x":1.731,"y":3.29},{"k":19,"x":1.755,"y":3.74},
      {"k":20,"x":1.7,"y":4.9},{"k":20,"x":1.9,"y":5.1},{"k":20,"x":2.1,"y":4.9},{"k":20,"x":2.3,"y":4.3},{"k":20,"x":2.3,"y":3.5},{"k":20,"x":2.1,"y":2.8},{"k":20,"x":1.9,"y":2.4},{"k":20,"x":1.7,"y":2.4},{"k":20,"x":1.55,"y":2.9},{"k":20,"x":1.5,"y":3.6},{"k":20,"x":1.55,"y":4.4}
    ],
    "o4": [
      {"k":1,"x":2.3,"y":2.55},{"k":1,"x":2.38,"y":2.7},{"k":1,"x":2.6,"y":2.75},{"k":1,"x":3.4,"y":2.3},{"k":1,"x":4.5,"y":1.9},{"k":1,"x":4.7,"y":1.86},{"k":1,"x":4.7,"y":0.94},{"k":1,"x":4.5,"y":1.0},{"k":1,"x":3.4,"y":1.45},{"k":1,"x":2.6,"y":1.9},{"k":1,"x":2.36,"y":2.35},
      {"k":2,"x":2.08,"y":2.95},{"k":2,"x":2.16,"y":3.1},{"k":2,"x":2.6,"y":3.1},{"k":2,"x":3.4,"y":2.55},{"k":2,"x":4.5,"y":2.2},{"k":2,"x":4.7,"y":2.16},{"k":2,"x":4.7,"y":1.09},{"k":2,"x":4.5,"y":1.15},{"k":2,"x":3.4,"y":1.6},{"k":2,"x":2.6,"y":2.05},{"k":2,"x":2.14,"y":2.75},
      {"k":3,"x":2.2,"y":2.7},{"k":3,"x":2.28,"y":2.85},{"k":3,"x":2.6,"y":2.85},{"k":3,"x":3.4,"y":2.35},{"k":3,"x":4.5,"y":1.95},{"k":3,"x":4.7,"y":1.91},{"k":3,"x":4.7,"y":0.74},{"k":3,"x":4.5,"y":0.8},{"k":3,"x":3.4,"y":1.3},{"k":3,"x":2.6,"y":1.75},{"k":3,"x":2.26,"y":2.5},
      {"k":4,"x":2.35,"y":2.4},{"k":4,"x":2.43,"y":2.55},{"k":4,"x":2.6,"y":2.62},{"k":4,"x":3.4,"y":2.15},{"k":4,"x":4.5,"y":1.8},{"k":4,"x":4.7,"y":1.76},{"k":4,"x":4.7,"y":1.09},{"k":4,"x":4.5,"y":1.15},{"k":4,"x":3.4,"y":1.55},{"k":4,"x":2.6,"y":1.95},{"k":4,"x":2.41,"y":2.2},
      {"k":5,"x":2.15,"y":2.85},{"k":5,"x":2.23,"y":3.0},{"k":5,"x":2.6,"y":2.95},{"k":5,"x":3.4,"y":2.45},{"k":5,"x":4.5,"y":2.3},{"k":5,"x":4.7,"y":2.26},{"k":5,"x":4.7,"y":1.19},{"k":5,"x":4.5,"y":1.25},{"k":5,"x":3.4,"y":1.65},{"k":5,"x":2.6,"y":2.1},{"k":5,"x":2.21,"y":2.65},
      {"k":6,"x":2.25,"y":2.6},{"k":6,"x":2.33,"y":2.75},{"k":6,"x":2.6,"y":2.78},{"k":6,"x":3.4,"y":2.3},{"k":6,"x":4.5,"y":1.75},{"k":6,"x":4.7,"y":1.71},{"k":6,"x":4.7,"y":0.84},{"k":6,"x":4.5,"y":0.9},{"k":6,"x":3.4,"y":1.35},{"k":6,"x":2.6,"y":1.8},{"k":6,"x":2.31,"y":2.4},
      {"k":7,"x":2.1,"y":2.95},{"k":7,"x":2.18,"y":3.1},{"k":7,"x":2.6,"y":3.2},{"k":7,"x":3.4,"y":2.65},{"k":7,"x":4.5,"y":2.5},{"k":7,"x":4.7,"y":2.46},{"k":7,"x":4.7,"y":1.29},{"k":7,"x":4.5,"y":1.35},{"k":7,"x":3.4,"y":1.75},{"k":7,"x":2.6,"y":2.15},{"k":7,"x":2.16,"y":2.75},
      {"k":8,"x":2.3,"y":2.45},{"k":8,"x":2.38,"y":2.6},{"k":8,"x":2.6,"y":2.68},{"k":8,"x":3.4,"y":2.22},{"k":8,"x":4.5,"y":1.85},{"k":8,"x":4.7,"y":1.81},{"k":8,"x":4.7,"y":0.59},{"k":8,"x":4.5,"y":0.65},{"k":8,"x":3.4,"y":1.15},{"k":8,"x":2.6,"y":1.65},{"k":8,"x":2.36,"y":2.25},
      {"k":9,"x":2.4,"y":2.3},{"k":9,"x":2.48,"y":2.45},{"k":9,"x":2.6,"y":2.58},{"k":9,"x":3.4,"y":2.12},{"k":9,"x":4.5,"y":1.7},{"k":9,"x":4.7,"y":1.66},{"k":9,"x":4.7,"y":1.04},{"k":9,"x":4.5,"y":1.1},{"k":9,"x":3.4,"y":1.5},{"k":9,"x":2.6,"y":1.95},{"k":9,"x":2.46,"y":2.1},
      {"k":10,"x":2.2,"y":2.7},{"k":10,"x":2.28,"y":2.85},{"k":10,"x":2.6,"y":2.85},{"k":10,"x":3.4,"y":2.4},{"k":10,"x":4.5,"y":2.0},{"k":10,"x":4.7,"y":1.96},{"k":10,"x":4.7,"y":0.94},{"k":10,"x":4.5,"y":1.0},{"k":10,"x":3.4,"y":1.45},{"k":10,"x":2.6,"y":1.9},{"k":10,"x":2.26,"y":2.5},
      {"k":11,"x":2.3,"y":2.55},{"k":11,"x":2.38,"y":2.7},{"k":11,"x":2.6,"y":2.72},{"k":11,"x":3.4,"y":2.28},{"k":11,"x":4.5,"y":1.92},{"k":11,"x":4.7,"y":1.88},{"k":11,"x":4.7,"y":0.99},{"k":11,"x":4.5,"y":1.05},{"k":11,"x":3.4,"y":1.48},{"k":11,"x":2.6,"y":1.9},{"k":11,"x":2.36,"y":2.35},
      {"k":12,"x":2.25,"y":2.6},{"k":12,"x":2.33,"y":2.75},{"k":12,"x":2.6,"y":2.8},{"k":12,"x":3.4,"y":2.3},{"k":12,"x":4.5,"y":1.9},{"k":12,"x":4.7,"y":1.86},{"k":12,"x":4.7,"y":0.89},{"k":12,"x":4.5,"y":0.95},{"k":12,"x":3.4,"y":1.4},{"k":12,"x":2.6,"y":1.85},{"k":12,"x":2.31,"y":2.4},
      {"k":13,"x":2.12,"y":2.9},{"k":13,"x":2.2,"y":3.05},{"k":13,"x":2.6,"y":3.0},{"k":13,"x":3.4,"y":2.45},{"k":13,"x":4.5,"y":2.15},{"k":13,"x":4.7,"y":2.11},{"k":13,"x":4.7,"y":0.54},{"k":13,"x":4.5,"y":0.6},{"k":13,"x":3.4,"y":1.1},{"k":13,"x":2.6,"y":1.6},{"k":13,"x":2.18,"y":2.7},
      {"k":14,"x":2.35,"y":2.4},{"k":14,"x":2.43,"y":2.55},{"k":14,"x":2.6,"y":2.64},{"k":14,"x":3.4,"y":2.2},{"k":14,"x":4.5,"y":1.8},{"k":14,"x":4.7,"y":1.76},{"k":14,"x":4.7,"y":1.04},{"k":14,"x":4.5,"y":1.1},{"k":14,"x":3.4,"y":1.5},{"k":14,"x":2.6,"y":1.92},{"k":14,"x":2.41,"y":2.2},
      {"k":15,"x":2.28,"y":2.5},{"k":15,"x":2.36,"y":2.65},{"k":15,"x":2.6,"y":2.7},{"k":15,"x":3.4,"y":2.25},{"k":15,"x":4.5,"y":1.85},{"k":15,"x":4.7,"y":1.81},{"k":15,"x":4.7,"y":0.84},{"k":15,"x":4.5,"y":0.9},{"k":15,"x":3.4,"y":1.35},{"k":15,"x":2.6,"y":1.82},{"k":15,"x":2.34,"y":2.3},
      {"k":16,"x":2.18,"y":2.8},{"k":16,"x":2.26,"y":2.95},{"k":16,"x":2.6,"y":2.9},{"k":16,"x":3.4,"y":2.5},{"k":16,"x":4.5,"y":2.1},{"k":16,"x":4.7,"y":2.06},{"k":16,"x":4.7,"y":0.79},{"k":16,"x":4.5,"y":0.85},{"k":16,"x":3.4,"y":1.3},{"k":16,"x":2.6,"y":1.78},{"k":16,"x":2.24,"y":2.6},
      {"k":17,"x":2.32,"y":2.5},{"k":17,"x":2.4,"y":2.65},{"k":17,"x":2.6,"y":2.7},{"k":17,"x":3.4,"y":2.25},{"k":17,"x":4.5,"y":1.95},{"k":17,"x":4.7,"y":1.91},{"k":17,"x":4.7,"y":1.14},{"k":17,"x":4.5,"y":1.2},{"k":17,"x":3.4,"y":1.6},{"k":17,"x":2.6,"y":2.0},{"k":17,"x":2.38,"y":2.3},
      {"k":18,"x":2.22,"y":2.65},{"k":18,"x":2.3,"y":2.8},{"k":18,"x":2.6,"y":2.82},{"k":18,"x":3.4,"y":2.38},{"k":18,"x":4.5,"y":2.05},{"k":18,"x":4.7,"y":2.01},{"k":18,"x":4.7,"y":0.69},{"k":18,"x":4.5,"y":0.75},{"k":18,"x":3.4,"y":1.25},{"k":18,"x":2.6,"y":1.7},{"k":18,"x":2.28,"y":2.45},
      {"k":19,"x":2.27,"y":2.55},{"k":19,"x":2.35,"y":2.7},{"k":19,"x":2.6,"y":2.75},{"k":19,"x":3.4,"y":2.3},{"k":19,"x":4.5,"y":1.88},{"k":19,"x":4.7,"y":1.84},{"k":19,"x":4.7,"y":0.94},{"k":19,"x":4.5,"y":1.0},{"k":19,"x":3.4,"y":1.42},{"k":19,"x":2.6,"y":1.88},{"k":19,"x":2.33,"y":2.35},
      {"k":20,"x":2.15,"y":2.8},{"k":20,"x":2.23,"y":2.95},{"k":20,"x":2.6,"y":3.05},{"k":20,"x":3.4,"y":2.6},{"k":20,"x":4.5,"y":2.35},{"k":20,"x":4.7,"y":2.31},{"k":20,"x":4.7,"y":1.04},{"k":20,"x":4.5,"y":1.1},{"k":20,"x":3.4,"y":1.55},{"k":20,"x":2.6,"y":2.0},{"k":20,"x":2.21,"y":2.6}
    ]
  },
  "vconcat": [
    {
      "width": 566, "height": 296,
      "layer": [
        {
          "encoding": {
            "x": {"field": "x", "type": "quantitative", "scale": {"domain": [0.5, 4.52], "nice": false, "zero": false}, "axis": {"values": [1, 2, 3, 4], "labels": false, "title": null}},
            "y": {"field": "y", "type": "quantitative", "scale": {"domain": [0.5, 8.5], "nice": false, "zero": false}, "axis": {"values": [1, 2, 3, 4, 5, 6, 7, 8], "title": "Density [g cm³]"}},
            "detail": {"field": "k"}, "order": {"value": null}
          },
          "layer": [
            {"data": {"name": "b1"}, "mark": {"type": "line", "interpolate": "cardinal-closed", "filled": true, "color": "#8B4513", "opacity": 1, "clip": true}},
            {"data": {"name": "u1"}, "mark": {"type": "line", "interpolate": "cardinal-closed", "filled": true, "color": "#4169E1", "opacity": 1, "clip": true}},
            {"data": {"name": "o1"}, "mark": {"type": "line", "interpolate": "cardinal-closed", "filled": true, "color": "#FF8C00", "opacity": 1, "clip": true}}
          ]
        },
        {"data": {"values": [{"t": "nₛ=1"}]}, "mark": {"type": "text", "align": "right", "baseline": "alphabetic", "font": "DejaVu Sans", "fontSize": 21.5, "color": "black"},
         "encoding": {"text": {"field": "t"},
           "x": {"datum": 4.37, "type": "quantitative", "scale": {"domain": [0.5, 4.52], "nice": false, "zero": false}, "axis": {"values": [1, 2, 3, 4], "labels": false, "title": null}},
           "y": {"datum": 7.39, "type": "quantitative", "scale": {"domain": [0.5, 8.5], "nice": false, "zero": false}, "axis": {"values": [1, 2, 3, 4, 5, 6, 7, 8], "title": "Density [g cm³]"}}}}
      ]
    },
    {
      "width": 566, "height": 296,
      "layer": [
        {
          "encoding": {
            "x": {"field": "x", "type": "quantitative", "scale": {"domain": [0.5, 4.52], "nice": false, "zero": false}, "axis": {"values": [1, 2, 3, 4], "labels": false, "title": null}},
            "y": {"field": "y", "type": "quantitative", "scale": {"domain": [0.5, 8.5], "nice": false, "zero": false}, "axis": {"values": [1, 2, 3, 4, 5, 6, 7, 8], "title": "Density [g cm³]"}},
            "detail": {"field": "k"}, "order": {"value": null}
          },
          "layer": [
            {"data": {"name": "b2"}, "mark": {"type": "line", "interpolate": "cardinal-closed", "filled": true, "color": "#8B4513", "opacity": 0.3333, "clip": true}},
            {"data": {"name": "u2"}, "mark": {"type": "line", "interpolate": "cardinal-closed", "filled": true, "color": "#4169E1", "opacity": 0.3333, "clip": true}},
            {"data": {"name": "o2"}, "mark": {"type": "line", "interpolate": "cardinal-closed", "filled": true, "color": "#FF8C00", "opacity": 0.3333, "clip": true}}
          ]
        },
        {"data": {"values": [{"t": "nₛ=3"}]}, "mark": {"type": "text", "align": "right", "baseline": "alphabetic", "font": "DejaVu Sans", "fontSize": 21.5, "color": "black"},
         "encoding": {"text": {"field": "t"},
           "x": {"datum": 4.37, "type": "quantitative", "scale": {"domain": [0.5, 4.52], "nice": false, "zero": false}, "axis": {"values": [1, 2, 3, 4], "labels": false, "title": null}},
           "y": {"datum": 7.39, "type": "quantitative", "scale": {"domain": [0.5, 8.5], "nice": false, "zero": false}, "axis": {"values": [1, 2, 3, 4, 5, 6, 7, 8], "title": "Density [g cm³]"}}}}
      ]
    },
    {
      "width": 566, "height": 296,
      "layer": [
        {
          "encoding": {
            "x": {"field": "x", "type": "quantitative", "scale": {"domain": [0.5, 4.52], "nice": false, "zero": false}, "axis": {"values": [1, 2, 3, 4], "labels": false, "title": null}},
            "y": {"field": "y", "type": "quantitative", "scale": {"domain": [0.5, 8.5], "nice": false, "zero": false}, "axis": {"values": [1, 2, 3, 4, 5, 6, 7, 8], "title": "Density [g cm³]"}},
            "detail": {"field": "k"}, "order": {"value": null}
          },
          "layer": [
            {"data": {"name": "b3"}, "mark": {"type": "line", "interpolate": "cardinal-closed", "filled": true, "color": "#8B4513", "opacity": 0.0667, "clip": true}},
            {"data": {"name": "u3"}, "mark": {"type": "line", "interpolate": "cardinal-closed", "filled": true, "color": "#4169E1", "opacity": 0.055, "clip": true}},
            {"data": {"name": "o3"}, "mark": {"type": "line", "interpolate": "cardinal-closed", "filled": true, "color": "#FF8C00", "opacity": 0.0667, "clip": true}}
          ]
        },
        {"data": {"values": [{"t": "nₛ=15"}]}, "mark": {"type": "text", "align": "right", "baseline": "alphabetic", "font": "DejaVu Sans", "fontSize": 21.5, "color": "black"},
         "encoding": {"text": {"field": "t"},
           "x": {"datum": 4.37, "type": "quantitative", "scale": {"domain": [0.5, 4.52], "nice": false, "zero": false}, "axis": {"values": [1, 2, 3, 4], "labels": false, "title": null}},
           "y": {"datum": 7.39, "type": "quantitative", "scale": {"domain": [0.5, 8.5], "nice": false, "zero": false}, "axis": {"values": [1, 2, 3, 4, 5, 6, 7, 8], "title": "Density [g cm³]"}}}}
      ]
    },
    {
      "width": 566, "height": 296,
      "layer": [
        {
          "encoding": {
            "x": {"field": "x", "type": "quantitative", "scale": {"domain": [0.5, 4.52], "nice": false, "zero": false}, "axis": {"values": [1, 2, 3, 4], "title": "Radius [R⊕]"}},
            "y": {"field": "y", "type": "quantitative", "scale": {"domain": [0.5, 8.5], "nice": false, "zero": false}, "axis": {"values": [1, 2, 3, 4, 5, 6, 7, 8], "title": "Density [g cm³]"}},
            "detail": {"field": "k"}, "order": {"value": null}
          },
          "layer": [
            {"data": {"name": "b4"}, "mark": {"type": "line", "interpolate": "cardinal-closed", "filled": true, "color": "#8B4513", "opacity": 0.05, "clip": true}},
            {"data": {"name": "u4"}, "mark": {"type": "line", "interpolate": "cardinal-closed", "filled": true, "color": "#4169E1", "opacity": 0.04, "clip": true}},
            {"data": {"name": "o4"}, "mark": {"type": "line", "interpolate": "cardinal-closed", "filled": true, "color": "#FF8C00", "opacity": 0.05, "clip": true}}
          ]
        },
        {"data": {"values": [{"t": "nₛ=60"}]}, "mark": {"type": "text", "align": "right", "baseline": "alphabetic", "font": "DejaVu Sans", "fontSize": 21.5, "color": "black"},
         "encoding": {"text": {"field": "t"},
           "x": {"datum": 4.37, "type": "quantitative", "scale": {"domain": [0.5, 4.52], "nice": false, "zero": false}, "axis": {"values": [1, 2, 3, 4], "title": "Radius [R⊕]"}},
           "y": {"datum": 7.39, "type": "quantitative", "scale": {"domain": [0.5, 8.5], "nice": false, "zero": false}, "axis": {"values": [1, 2, 3, 4, 5, 6, 7, 8], "title": "Density [g cm³]"}}}}
      ]
    }
  ]
}
